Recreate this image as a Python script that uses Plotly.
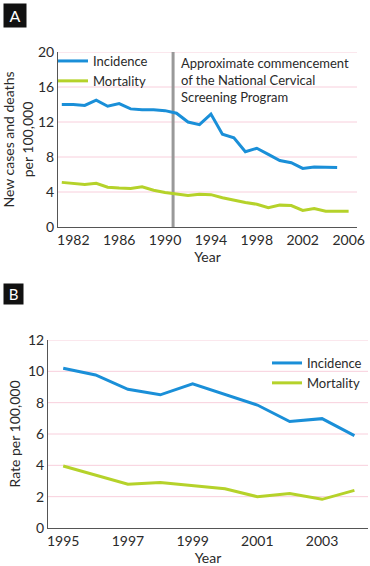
import plotly.graph_objects as go

# ---- Panel A data ----
years_a_inc = list(range(1981, 2006))
incidence_a = [14.0, 14.0, 13.9, 14.5, 13.8, 14.1, 13.5, 13.4, 13.4, 13.3, 13.0, 12.0, 11.7, 12.9,
               10.6, 10.2, 8.6, 9.0, 8.3, 7.6, 7.35, 6.7, 6.85, 6.8, 6.8]
years_a_mort = list(range(1981, 2007))
mortality_a = [5.1, 5.0, 4.85, 5.0, 4.55, 4.45, 4.4, 4.6, 4.2, 3.95, 3.8, 3.6, 3.75, 3.7,
               3.35, 3.05, 2.8, 2.6, 2.2, 2.5, 2.45, 1.9, 2.1, 1.8, 1.8, 1.8]
screening_start = 1990.7
xticks_a = [1982, 1986, 1990, 1994, 1998, 2002, 2006]
yticks_a = [0, 4, 8, 12, 16, 20]

# ---- Panel B data ----
years_b = list(range(1995, 2005))
incidence_b = [10.2, 9.77, 8.85, 8.5, 9.2, 8.5, 7.85, 6.8, 6.98, 5.9]
mortality_b = [3.96, 3.4, 2.8, 2.9, 2.7, 2.5, 2.0, 2.2, 1.83, 2.4]
xticks_b = [1995, 1997, 1999, 2001, 2003]
yticks_b = [0, 2, 4, 6, 8, 10, 12]

BLUE = "#1A8FD8"
GREEN = "#B5D22A"
GRID = "#F8CFDC"
AXIS = "#555555"
TXT = "#2a2a2a"
FONT = "Lato"
FS = 13

W, H = 370, 566

def px_x(p):
    return p / W

def px_y(p):
    return 1 - p / H

fig = go.Figure()

fig.add_trace(go.Scatter(x=years_a_inc, y=incidence_a, mode="lines", name="Incidence",
                         line=dict(color=BLUE, width=3), xaxis="x", yaxis="y", legend="legend"))
fig.add_trace(go.Scatter(x=years_a_mort, y=mortality_a, mode="lines", name="Mortality",
                         line=dict(color=GREEN, width=3), xaxis="x", yaxis="y", legend="legend"))
fig.add_trace(go.Scatter(x=years_b, y=incidence_b, mode="lines", name="Incidence",
                         line=dict(color=BLUE, width=3), xaxis="x2", yaxis="y2", legend="legend2"))
fig.add_trace(go.Scatter(x=years_b, y=mortality_b, mode="lines", name="Mortality",
                         line=dict(color=GREEN, width=3), xaxis="x2", yaxis="y2", legend="legend2"))

tf = dict(family=FONT, size=14, color=TXT)
axis_common = dict(showgrid=False, zeroline=False, showline=True, linecolor=AXIS, linewidth=1,
                   ticks="", tickfont=tf, automargin=False)

fig.update_layout(
    width=W, height=H,
    margin=dict(l=0, r=0, t=0, b=0),
    paper_bgcolor="white", plot_bgcolor="white",
    font=dict(family=FONT, color=TXT),
    xaxis=dict(domain=[px_x(58), px_x(357)], range=[1980.67, 2006.73], tickvals=xticks_a,
               anchor="y", title=dict(text="Year", font=tf, standoff=4), **axis_common),
    yaxis=dict(domain=[px_y(227), px_y(52)], range=[0, 20], tickvals=yticks_a, anchor="x",
               title=dict(text="New cases and deaths<br>per 100,000", font=tf, standoff=1),
               **axis_common),
    xaxis2=dict(domain=[px_x(48), px_x(368)], range=[1994.53, 2004.42], tickvals=xticks_b,
                anchor="y2", title=dict(text="Year", font=tf, standoff=4), **axis_common),
    yaxis2=dict(domain=[px_y(528), px_y(340)], range=[0, 12], tickvals=yticks_b, anchor="x2",
                title=dict(text="Rate per 100,000", font=tf, standoff=4), **axis_common),
    legend=dict(x=px_x(53), y=px_y(46), xanchor="left", yanchor="top", bgcolor="rgba(0,0,0,0)",
                font=dict(family=FONT, size=FS, color=TXT), tracegroupgap=0, itemwidth=30),
    legend2=dict(x=px_x(267), y=px_y(348), xanchor="left", yanchor="top", bgcolor="rgba(0,0,0,0)",
                 font=dict(family=FONT, size=FS, color=TXT), tracegroupgap=0, itemwidth=30),
    showlegend=True,
)

shapes = []
for v in yticks_a[1:]:
    shapes.append(dict(type="line", xref="x domain", yref="y", x0=0, x1=1, y0=v, y1=v,
                       line=dict(color=GRID, width=1), layer="below"))
for v in yticks_b[1:]:
    shapes.append(dict(type="line", xref="x2 domain", yref="y2", x0=0, x1=1, y0=v, y1=v,
                       line=dict(color=GRID, width=1), layer="below"))
shapes.append(dict(type="line", xref="x", yref="y domain", x0=screening_start, x1=screening_start,
                   y0=0, y1=1, line=dict(color="#999999", width=3), layer="below"))
fig.update_layout(shapes=shapes)

annotations = [
    dict(text="Approximate commencement<br>of the National Cervical<br>Screening Program",
         xref="x", yref="y", x=screening_start + 0.5, y=19.9, xanchor="left", yanchor="top",
         align="left", showarrow=False, font=dict(family=FONT, size=FS, color=TXT)),
    dict(text=" A ", xref="paper", yref="paper", x=px_x(3), y=px_y(3), xanchor="left", yanchor="top",
         showarrow=False, bgcolor="#111111", font=dict(family=FONT, size=16, color="white"),
         borderpad=2),
    dict(text=" B ", xref="paper", yref="paper", x=px_x(3), y=px_y(283), xanchor="left", yanchor="top",
         showarrow=False, bgcolor="#111111", font=dict(family=FONT, size=15, color="white"),
         borderpad=1),
]
fig.update_layout(annotations=annotations)

fig.write_html("out.html", config={"displayModeBar": False},
               post_script="document.body.style.margin='0';document.body.style.overflow='hidden';")
